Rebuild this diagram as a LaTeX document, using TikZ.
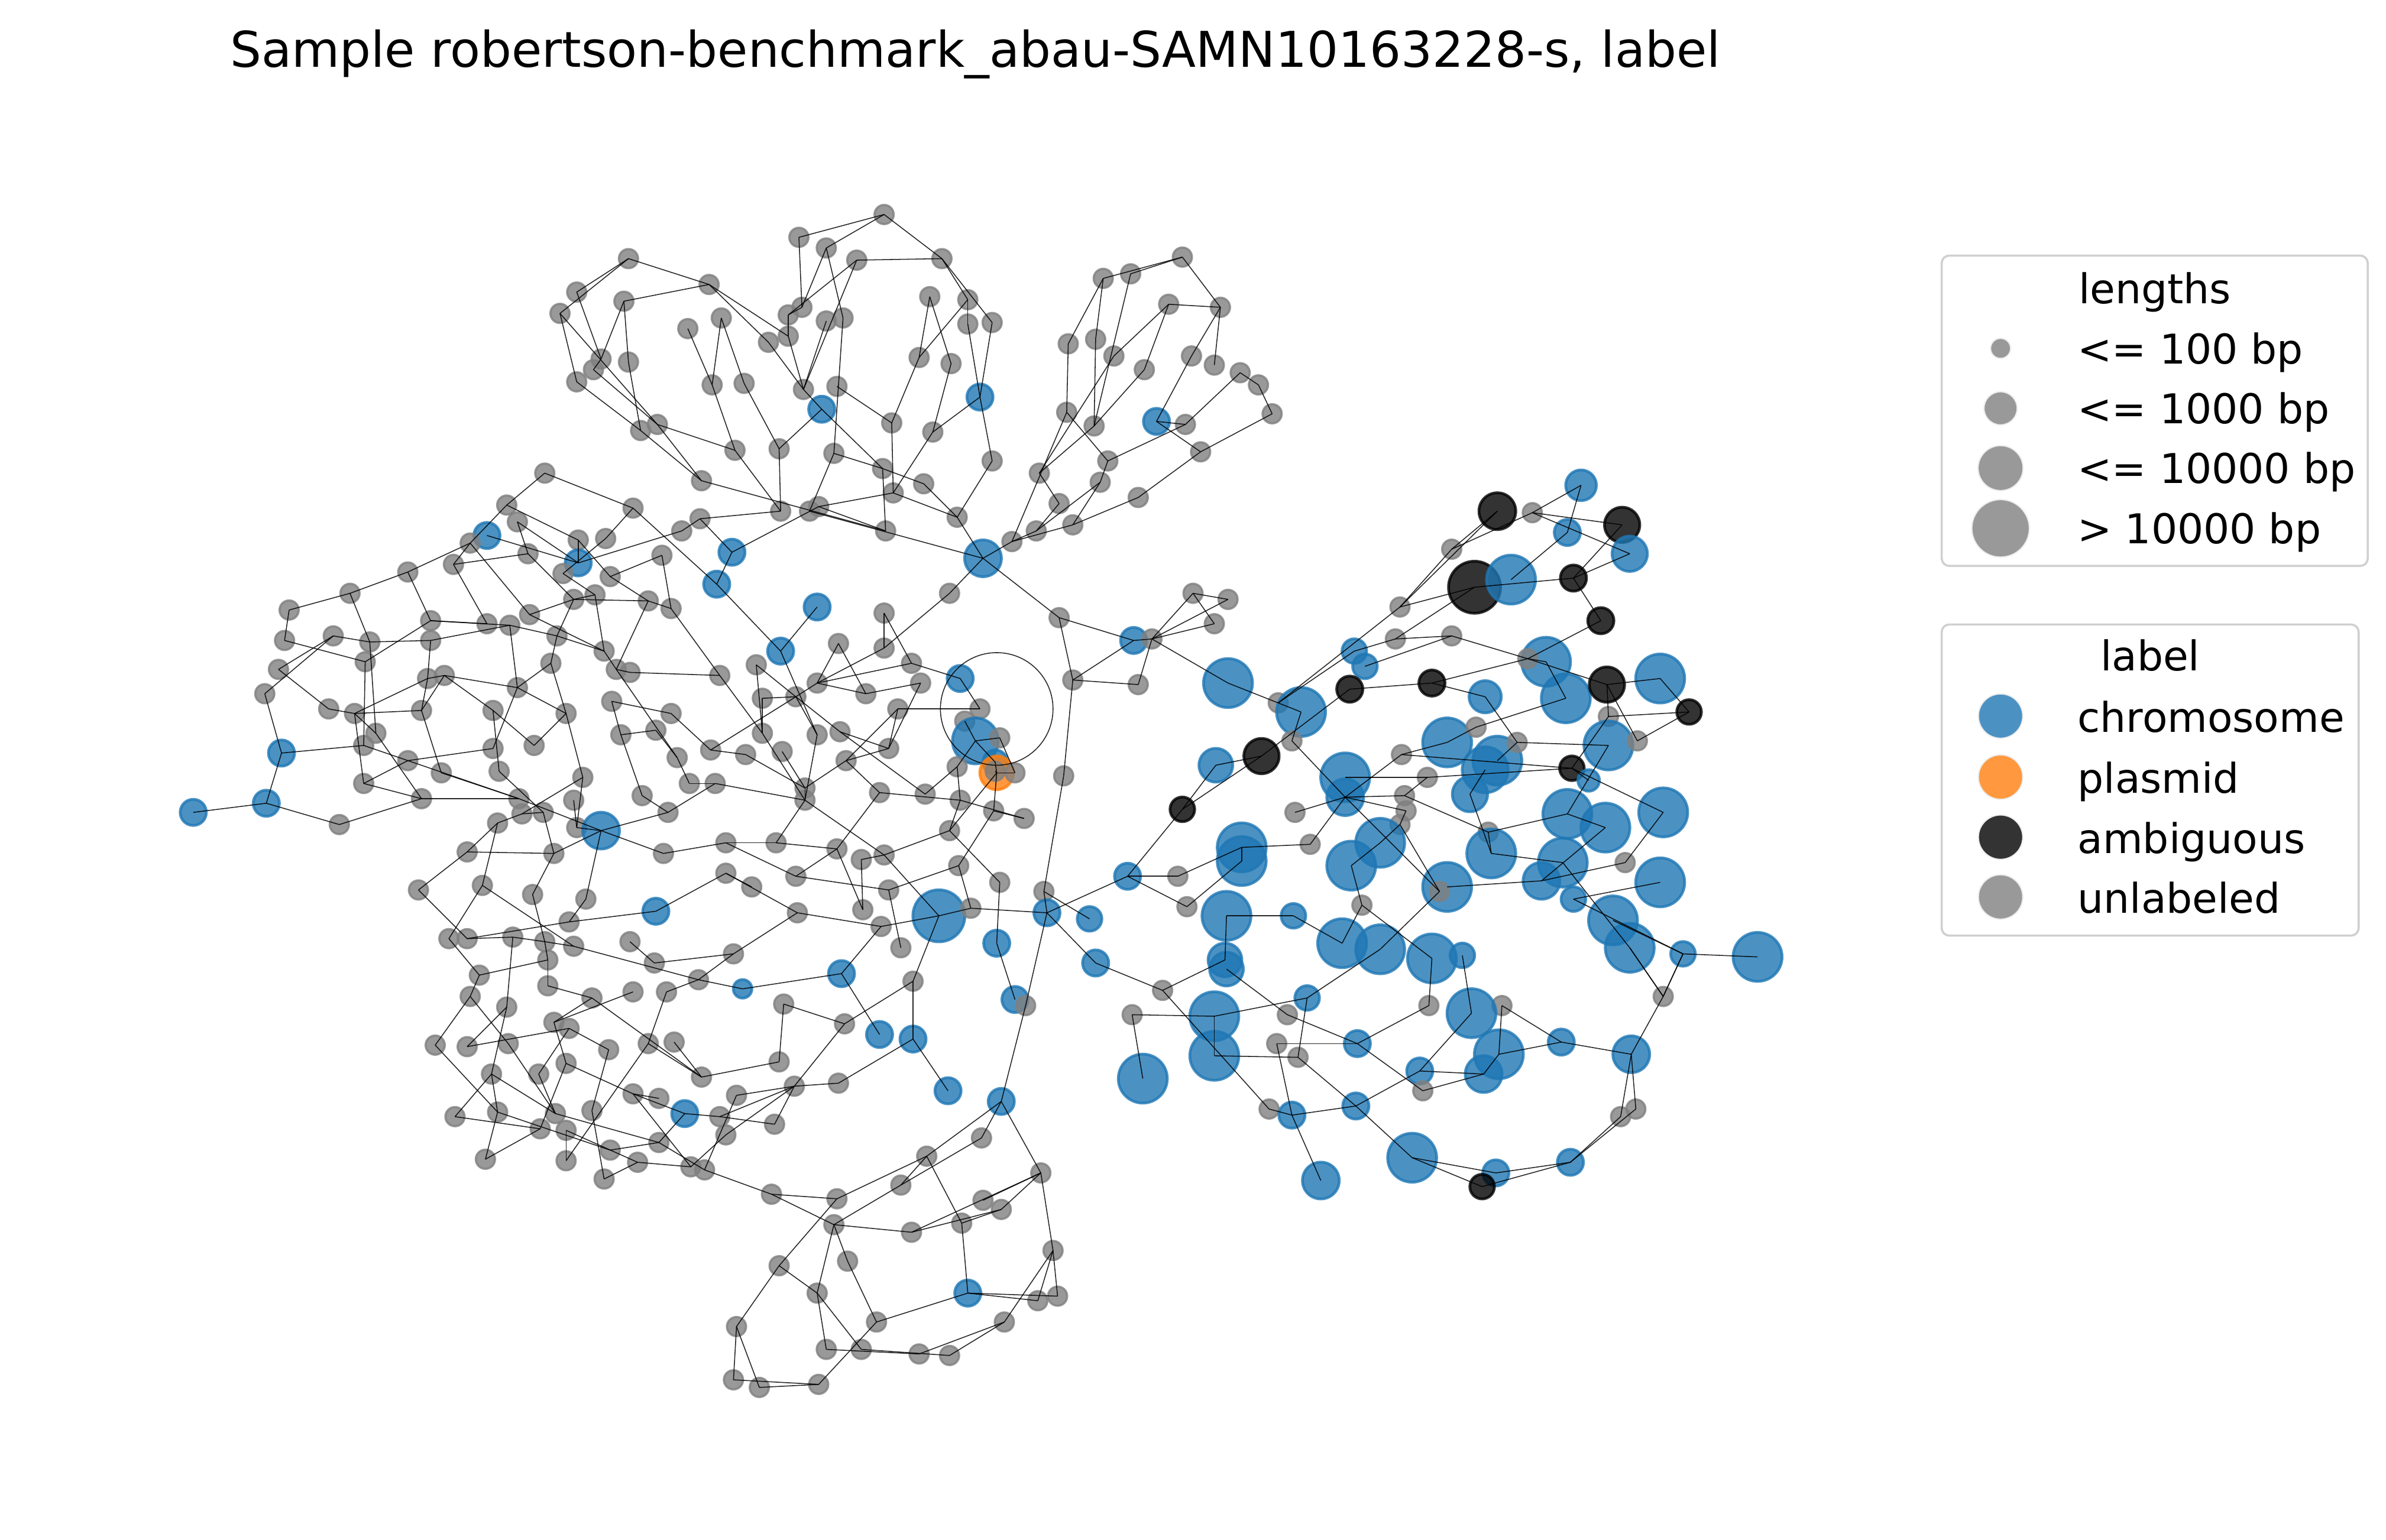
\documentclass[tikz,border=0pt]{standalone}
\usepackage{fontspec}
\setmainfont{DejaVu Sans}
\definecolor{tabblue}{HTML}{1F77B4}
\definecolor{taborange}{HTML}{FF7F0E}
\definecolor{legframe}{HTML}{D0D0D0}
\newcommand{\titf}{\fontsize{16.2}{19.4}\selectfont}
\newcommand{\legf}{\fontsize{13.5}{16.2}\selectfont}
\newcommand{\ngray}[3]{\node[gn] (#1) at (#2,#3) {};}
\newcommand{\nblue}[4]{\node[bn,minimum size=#4pt] (#1) at (#2,#3) {};}
\newcommand{\nblack}[4]{\node[kn,minimum size=#4pt] (#1) at (#2,#3) {};}
\tikzset{
  gn/.style={circle,inner sep=0pt,minimum size=6.3pt,fill=gray,draw=gray,fill opacity=0.8,draw opacity=0.8,line width=0.7pt},
  bn/.style={circle,inner sep=0pt,fill=tabblue,draw=tabblue,fill opacity=0.8,draw opacity=0.8,line width=0.9pt},
  kn/.style={circle,inner sep=0pt,fill=black,draw=black,fill opacity=0.8,draw opacity=0.8,line width=0.9pt},
  on/.style={circle,inner sep=0pt,fill=taborange,draw=taborange,fill opacity=0.8,draw opacity=0.8,line width=0.9pt},
  ed/.style={draw=black,line width=0.3pt,draw opacity=0.85},
  lgm/.style={circle,inner sep=0pt,fill opacity=0.8,line width=0.4pt,draw=white!85!gray},
  legbox/.style={draw=legframe,fill=white,line width=0.7pt,rounded corners=2.5pt},
  legtxt/.style={anchor=base west,font=\legf,inner sep=0pt},
}
\begin{document}
\begin{tikzpicture}[x=0.5pt,y=-0.5pt]
\fill[white] (0,0) rectangle (1568,1012);
\useasboundingbox (0,0) rectangle (1568,1012);
% ---------- title
\node[anchor=base,font=\titf,inner sep=0pt] (title) at (641,44) {Sample robertson-benchmark\_abau-SAMN10163228-s, label};
% ---------- region A
\ngray{A1}{413}{170}\ngray{A2}{379}{192}\ngray{A3}{410}{198}\ngray{A4}{368}{206}
\ngray{A5}{452}{216}\ngray{A6}{395}{236}\ngray{A7}{390}{243}\ngray{A8}{413}{238}
\ngray{A9}{379}{251}\ngray{A10}{432}{279}\ngray{A11}{421}{283}\ngray{A12}{358}{311}
\ngray{A13}{333}{332}\ngray{A14}{416}{334}\ngray{A15}{340}{343}\nblue{A16}{320}{352}{8.6}
\ngray{A17}{309}{357}\ngray{A18}{347}{364}\ngray{A19}{380}{355}\ngray{A20}{398}{354}
\ngray{A21}{448}{349}\nblue{A22}{380}{370}{8.6}\ngray{A23}{435}{365}\ngray{A24}{298}{371}
\ngray{A25}{268}{376}\ngray{A26}{370}{377}\ngray{A27}{401}{379}
% ---------- region B
\ngray{B1}{581}{141}\ngray{B2}{525}{156}\ngray{B3}{543}{163}\ngray{B4}{563}{171}
\ngray{B5}{619}{170}\ngray{B6}{466}{187}\ngray{B7}{611}{195}\ngray{B8}{636}{197}
\ngray{B9}{527}{202}\ngray{B10}{518}{207}\ngray{B11}{474}{209}\ngray{B12}{543}{211}
\ngray{B13}{554}{209}\ngray{B14}{636}{213}\ngray{B15}{652}{212}\ngray{B16}{518}{221}
\ngray{B17}{505}{225}\ngray{B18}{604}{235}\ngray{B19}{625}{239}\ngray{B20}{468}{253}
\ngray{B21}{489}{252}\ngray{B22}{528}{256}\ngray{B23}{550}{254}\nblue{B24}{540}{269}{8.6}
\nblue{B25}{644}{261}{8.6}\ngray{B26}{586}{278}\ngray{B27}{613}{284}\ngray{B28}{483}{296}
\ngray{B29}{512}{295}\ngray{B30}{548}{298}\ngray{B31}{580}{308}\ngray{B32}{652}{303}
\ngray{B33}{461}{316}\ngray{B34}{587}{324}\ngray{B35}{607}{318}\ngray{B36}{513}{336}
\ngray{B37}{532}{336}\ngray{B38}{538}{333}\ngray{B39}{582}{349}\ngray{B40}{629}{340}
\nblue{B41}{646}{367}{12.1}\ngray{B42}{460}{341}\nblue{B43}{481}{363}{8.6}\nblue{B44}{471}{384}{8.6}
\ngray{B45}{624}{390}\ngray{B46}{777}{169}\ngray{B47}{725}{183}\ngray{B48}{743}{180}
\ngray{B49}{768}{200}\ngray{B50}{802}{202}\ngray{B51}{702}{226}\ngray{B52}{720}{223}
\ngray{B53}{732}{234}\ngray{B54}{752}{243}\ngray{B55}{783}{234}\ngray{B56}{798}{240}
\ngray{B57}{815}{245}\ngray{B58}{701}{271}\nblue{B59}{760}{277}{8.6}\ngray{B60}{719}{280}
\ngray{B61}{779}{279}\ngray{B62}{789}{297}\ngray{B63}{728}{303}\ngray{B64}{683}{311}
\ngray{B65}{723}{317}\ngray{B66}{696}{331}\ngray{B67}{748}{327}\ngray{B68}{681}{349}
\ngray{B69}{705}{345}\ngray{B70}{665}{356}\ngray{B71}{784}{390}\ngray{B72}{807}{394}
\ngray{B73}{827}{253}\ngray{B74}{836}{272}
% ---------- region C
\nblack{C1}{984}{336}{12.1}\ngray{C2}{1007}{337}\nblue{C3}{1039}{319}{10.1}\nblack{C4}{1066}{345}{11.6}
\nblue{C5}{1030}{350}{8.6}\nblue{C6}{1071}{364}{11.6}\ngray{C7}{954}{361}\nblack{C8}{969}{386}{17.1}
\nblue{C9}{993}{381}{16.1}\nblack{C10}{1034}{380}{8.6}\ngray{C11}{920}{399}
% ---------- region D
\nblack{D2}{1052}{408}{8.6}\ngray{D3}{917}{420}\ngray{D4}{954}{418}\nblue{D5}{890}{428}{8.1}
\nblue{D6}{897}{438}{8.1}\nblue{D7}{807}{449}{16.1}\nblue{D8}{1016}{435}{16.1}\ngray{D9}{1004}{433}
\nblue{D10}{1029}{459}{16.1}\nblack{D11}{1056}{450}{11.6}\nblue{D12}{1091}{446}{16.1}\nblack{D13}{1110}{468}{8.1}
\ngray{D14}{1057}{471}\nblack{D15}{887}{453}{8.6}\nblack{D16}{941}{449}{8.6}\nblue{D17}{976}{458}{10.6}
\ngray{D18}{840}{462}\nblue{D19}{855}{468}{16.1}\ngray{D20}{849}{487}\nblack{D21}{829}{497}{11.6}
\nblue{D22}{799}{503}{11.1}\nblue{D23}{951}{488}{16.1}\ngray{D24}{970}{478}\nblue{D25}{984}{500}{16.1}
\nblue{D26}{976}{506}{15.1}\ngray{D27}{997}{488}\nblue{D28}{1057}{490}{16.1}\ngray{D29}{1076}{487}
\nblack{D30}{1033}{505}{8.1}\nblue{D31}{1044}{513}{7.1}\ngray{D32}{921}{496}\ngray{D33}{938}{511}
\nblue{D34}{884}{511}{16.1}\nblue{D35}{884}{524}{12.1}\ngray{D36}{923}{523}\ngray{D37}{924}{533}
\ngray{D38}{920}{542}\nblue{D39}{966}{522}{11.6}\ngray{D40}{851}{534}\ngray{D41}{861}{555}
\nblue{D42}{816}{557}{16.1}\nblue{D42b}{816}{566}{16.1}\nblue{D43}{907}{554}{16.1}\nblue{D44}{888}{569}{16.1}
\ngray{D45}{978}{547}\nblue{D46}{980}{561}{16.1}\nblue{D47}{1030}{535}{16.1}\nblue{D48}{1055}{544}{16.1}
\nblue{D49}{1093}{534}{16.1}\ngray{D50}{1068}{567}\nblue{D51}{1091}{580}{16.1}\nblue{D52}{1027}{567}{16.1}
\nblue{D53}{1013}{579}{12.1}\nblue{D54}{1034}{591}{8.1}\nblue{D55}{951}{583}{16.1}\ngray{D56}{946}{586}
\ngray{D57}{895}{595}\nblue{D58}{850}{602}{8.1}\nblue{D59}{806}{602}{16.1}\nblue{D60}{882}{620}{16.1}
\nblue{D61}{907}{624}{16.1}\nblue{D62}{941}{630}{16.1}\nblue{D63}{961}{628}{8.1}\nblue{D64}{1060}{605}{16.1}
\nblue{D65}{1071}{623}{16.1}\nblue{D66}{1106}{627}{8.1}\nblue{D67}{1155}{629}{16.1}\ngray{D68}{1093}{655}
\nblue{D69}{859}{656}{8.1}\ngray{D70}{939}{661}\ngray{D71}{987}{661}\nblue{D72}{805}{631}{11.1}
\nblue{D73}{806}{637}{11.1}
% ---------- region E
\ngray{E1}{581}{403}\ngray{E2}{551}{423}\ngray{E3}{581}{426}\ngray{E4}{599}{436}
\ngray{E5}{497}{437}\ngray{E6}{473}{444}\ngray{E7}{537}{449}\ngray{E8}{523}{458}
\ngray{E9}{501}{459}\ngray{E10}{569}{456}\ngray{E11}{605}{449}\ngray{E12}{590}{466}
\nblue{E13}{631}{446}{8.6}\ngray{E14}{644}{466}\ngray{E15}{634}{474}\nblue{E16}{641}{487}{15.1}
\ngray{E17}{657}{485}\nblue{E18}{654}{501}{8.1}
\node[on,minimum size=11.1pt] (E19) at (655,508) {};
\ngray{E20}{654}{507}\ngray{E21}{667}{508}
\ngray{E22}{501}{482}\ngray{E23}{537}{483}\ngray{E24}{552}{481}\ngray{E25}{467}{493}
\ngray{E26}{490}{496}\ngray{E27}{514}{494}\ngray{E28}{584}{492}\ngray{E29}{556}{500}
\ngray{E30}{629}{504}\ngray{E31}{470}{515}\ngray{E32}{529}{518}\ngray{E33}{529}{526}
\ngray{E34}{578}{521}\ngray{E35}{608}{522}\ngray{E36}{631}{526}\ngray{E37}{653}{533}
\ngray{E38}{673}{538}\ngray{E39}{699}{510}\ngray{E40}{696}{406}\nblue{E41}{745}{421}{8.6}
\ngray{E42}{757}{420}\ngray{E43}{798}{410}\ngray{E44}{705}{447}\ngray{E45}{748}{450}
\nblack{E46}{777}{532}{8.1}\nblue{E47}{741}{576}{8.6}\ngray{E48}{774}{576}\ngray{E49}{780}{596}
\ngray{E50}{686}{586}\nblue{E51}{688}{600}{8.6}\nblue{E52}{716}{604}{8.1}\nblue{E53}{720}{633}{8.6}
\ngray{E54}{764}{651}\ngray{E55}{477}{554}\ngray{E56}{510}{554}\ngray{E57}{550}{558}
\ngray{E58}{566}{565}\ngray{E59}{581}{562}\ngray{E60}{624}{546}\ngray{E61}{630}{569}
\ngray{E62}{657}{580}\ngray{E63}{477}{574}\ngray{E64}{494}{583}\ngray{E65}{523}{576}
\ngray{E66}{584}{585}\nblue{E67}{617}{602}{17.1}\ngray{E68}{638}{597}\ngray{E69}{524}{600}
\ngray{E70}{567}{598}\ngray{E71}{579}{609}\ngray{E72}{592}{623}\nblue{E73}{655}{620}{8.6}
\ngray{E74}{482}{627}\nblue{E75}{553}{640}{8.6}\nblue{E76}{488}{650}{6.1}\ngray{E77}{600}{645}
\ngray{E78}{459}{644}\ngray{E79}{515}{660}\nblue{E80}{667}{657}{8.6}\ngray{E81}{674}{661}
\nblue{E82}{537}{399}{8.6}\nblue{E83}{513}{428}{8.6}\ngray{E84}{453}{515}
% ---------- region F
\ngray{F1}{230}{390}\ngray{F2}{190}{401}\ngray{F3}{219}{418}\ngray{F4}{187}{421}
\ngray{F5}{243}{422}\ngray{F6}{283}{408}\ngray{F7}{283}{421}\ngray{F8}{320}{410}
\ngray{F9}{335}{411}\ngray{F10}{348}{404}\ngray{F11}{377}{394}\ngray{F12}{391}{391}
\ngray{F13}{426}{395}\ngray{F14}{441}{400}\ngray{F15}{366}{418}\ngray{F16}{397}{428}
\ngray{F17}{183}{440}\ngray{F18}{240}{435}\ngray{F19}{281}{446}\ngray{F20}{292}{444}
\ngray{F21}{362}{436}\ngray{F22}{405}{440}\ngray{F23}{414}{442}\ngray{F24}{340}{452}
\ngray{F25}{174}{456}\ngray{F26}{216}{466}\ngray{F27}{233}{469}\ngray{F28}{277}{467}
\ngray{F29}{324}{467}\ngray{F30}{372}{469}\ngray{F31}{402}{461}\ngray{F32}{441}{469}
\ngray{F33}{247}{482}\ngray{F34}{239}{490}\nblue{F35}{185}{495}{8.6}\ngray{F36}{324}{492}
\ngray{F37}{351}{490}\ngray{F38}{408}{483}\ngray{F39}{431}{480}\ngray{F40}{445}{498}
\ngray{F41}{268}{500}\ngray{F42}{290}{508}\ngray{F43}{328}{507}\ngray{F44}{383}{511}
\ngray{F45}{239}{515}\nblue{F46}{175}{528}{8.6}\nblue{F47}{127}{534}{8.6}\ngray{F48}{223}{542}
\ngray{F49}{277}{525}\ngray{F50}{341}{525}\ngray{F51}{377}{526}\ngray{F52}{422}{523}
\ngray{F53}{439}{534}\ngray{F54}{343}{535}\ngray{F55}{357}{534}\ngray{F56}{327}{541}
\ngray{F57}{379}{544}\nblue{F58}{395}{546}{12.1}\ngray{F59}{436}{561}\ngray{F60}{307}{560}
\ngray{F61}{364}{561}\ngray{F62}{275}{585}\ngray{F63}{317}{582}\ngray{F64}{350}{588}
\ngray{F65}{385}{591}\nblue{F66}{431}{599}{8.6}\ngray{F67}{374}{606}\ngray{F68}{295}{617}
\ngray{F69}{307}{617}\ngray{F70}{337}{616}\ngray{F71}{358}{619}\ngray{F72}{377}{622}
\ngray{F73}{414}{619}\ngray{F74}{360}{631}\ngray{F75}{430}{633}\ngray{F76}{315}{641}
\ngray{F77}{360}{648}\ngray{F78}{416}{652}\ngray{F79}{438}{652}\ngray{F80}{309}{655}
\ngray{F81}{333}{662}\ngray{F82}{389}{656}
% ---------- region G
\ngray{G3}{364}{672}\ngray{G4}{374}{676}\ngray{G8}{286}{687}\ngray{G9}{307}{688}
\ngray{G10}{334}{686}\ngray{G11}{400}{690}\ngray{G12}{426}{686}\ngray{G13}{443}{685}
\ngray{G14}{323}{706}\ngray{G15}{354}{706}\ngray{G16}{372}{699}\ngray{G17}{461}{708}
\ngray{G18}{416}{719}\ngray{G19}{433}{722}\nblue{G20}{450}{732}{8.6}\ngray{G21}{299}{734}
\ngray{G22}{327}{731}\ngray{G23}{365}{732}\ngray{G24}{389}{730}\ngray{G25}{355}{742}
\ngray{G26}{372}{743}\ngray{G27}{401}{756}\ngray{G28}{433}{751}\ngray{G29}{319}{762}
\ngray{G30}{372}{763}\ngray{G31}{419}{764}\ngray{G32}{454}{767}\ngray{G33}{463}{769}
\ngray{G34}{397}{775}
% ---------- region H
\ngray{H2}{555}{673}\nblue{H3}{578}{680}{8.6}\nblue{H4}{600}{683}{8.6}\nblue{H5}{623}{717}{8.6}
\nblue{H6}{658}{724}{8.6}\ngray{H8}{512}{698}\ngray{H10}{522}{714}\ngray{H11}{551}{712}
\ngray{H12}{484}{720}\ngray{H13}{473}{734}\ngray{H14}{509}{739}\ngray{H15}{477}{746}
\ngray{H17}{645}{748}\ngray{H18}{609}{760}\ngray{H19}{592}{779}\ngray{H20}{507}{785}
\ngray{H21}{550}{788}\ngray{H22}{684}{771}\ngray{H23}{646}{789}\ngray{H24}{658}{795}
\ngray{H25}{632}{804}\ngray{H26}{548}{805}\ngray{H27}{599}{810}\ngray{H28}{557}{829}
\ngray{H29}{692}{822}\ngray{H30}{512}{832}\ngray{H31}{537}{850}\nblue{H32}{636}{850}{8.6}
\ngray{H33}{682}{855}\ngray{H34}{695}{852}\ngray{H35}{576}{869}\ngray{H36}{484}{872}
\ngray{H37}{660}{869}\ngray{H38}{543}{887}\ngray{H39}{566}{887}\ngray{H40}{604}{890}
\ngray{H41}{624}{891}\ngray{H42}{482}{907}\ngray{H43}{499}{912}\ngray{H44}{538}{910}
\ngray{H45}{744}{667}\nblue{H47}{798}{668}{16.1}\nblue{H48}{798}{694}{16.1}\nblue{H49}{751}{709}{16.1}
% ---------- region I
\ngray{I2}{846}{667}\nblue{I4}{967}{666}{16.1}\ngray{I7}{839}{686}\ngray{I8}{853}{695}
\nblue{I9}{892}{686}{8.6}\nblue{I10}{933}{704}{8.6}\ngray{I11}{935}{717}\nblue{I12}{985}{693}{16.1}
\nblue{I13}{975}{706}{12.1}\nblue{I14}{1026}{685}{8.6}\nblue{I15}{1072}{693}{12.1}\ngray{I16}{834}{729}
\nblue{I17}{849}{733}{8.6}\nblue{I18}{891}{727}{8.6}\ngray{I19}{1065}{734}\ngray{I20}{1075}{729}
\nblue{I21}{928}{761}{16.1}\nblue{I22}{868}{776}{12.1}\nblue{I23}{983}{771}{8.6}\nblack{I24}{974}{780}{8.1}
\nblue{I25}{1032}{764}{8.6}
% ---------- edges
\foreach \a/\b in {A1/A2,A1/A4,A1/B6,A3/B6,A3/A6,A3/A8,A8/A11,A2/A6,A4/A9,A4/A10,A9/A11,A7/A10,A6/A7,
  A10/B33,A11/B33,A5/B20,A10/B28,A12/A13,A12/A14,A13/A17,A13/A19,A14/A20,A14/B44,A15/A18,A15/A22,
  A16/A22,A17/A24,A17/A25,A24/A18,A22/A21,A20/A26,A19/A27,A19/A22,A23/A27,A21/B42,A25/F1,A17/F10,
  A24/F8,A25/F6,A18/F11,A26/F12,A27/F13,A23/F14}
  \draw[ed] (\a.center) -- (\b.center);
\foreach \a/\b in {B1/B2,B1/B3,B1/B5,B4/B5,B2/B9,B3/B9,B3/B13,B4/B10,B4/B22,B5/B8,B5/B15,B8/B14,
  B6/B17,B6/B16,B7/B19,B7/B18,B8/B18,B9/B10,B10/B16,B11/B20,B11/B21,B12/B22,B13/B30,B14/B25,B15/B25,
  B16/B22,B17/B22,B18/B26,B19/B27,B20/B28,B21/B29,B22/B24,B23/B26,B24/B29,B24/B31,B25/B27,B25/B32,
  B26/B34,B27/B34,B28/B36,B29/B36,B30/B31,B30/B37,B31/B39,B32/B40,B33/B39,B34/B38,B34/B40,B35/B40,
  B31/B35,B36/B42,B37/B41,B38/B43,B38/B39,B40/B41,B41/B70,B41/B45,B41/E40,B42/B43,B43/B44,B70/B68,
  B70/B69,B68/B66,B58/B70,B64/B60,B64/B66,B65/B68,B65/B69,B58/B63,B58/B51,B51/B47,B47/B52,B47/B46,
  B48/B46,B48/B60,B46/B50,B49/B50,B49/B53,B49/B54,B54/B60,B50/B56,B50/B55,B55/B59,B59/B61,B59/B62,
  B61/B57,B61/B63,B62/B67,B62/B74,B67/B69,B63/B65,B52/B60,B71/B72,B57/B73,B73/B74,B53/B64}
  \draw[ed] (\a.center) -- (\b.center);
\foreach \a/\b in {C1/C7,C7/C2,C2/C3,C2/C4,C3/C5,C5/C9,C4/C10,C6/C10,C10/C8,C7/C11,C10/D2,C1/C11,
  C2/C6,C8/C11,C8/D3,
  C11/D18,D3/D4,D4/D9,D4/D6,D5/D3,D5/D18,D15/D16,D15/D21,D16/D17,D16/D9,D17/D27,D9/D2,D9/D11,D8/D10,
  D8/D9,D11/D14,D11/D29,D12/D13,D12/D11,D14/D13,D13/D29,D14/D30,D10/D24,D24/D23,D32/D23,D27/D28,
  D32/D30,D32/D35,D30/D33,D30/D31,D30/D49,D19/D20,D7/D19,D20/D35,D21/D22,D33/D36,D34/D33,D35/D36,
  D35/D40,D35/D41,D35/D37,D35/D56,D36/D45,D37/D38,D38/D56,D45/D46,D45/D47,D28/D47,D48/D53,D49/D50,
  D50/D53,D51/D54,D46/D52,D52/D65,D55/D53,D56/D61,D57/D60,D57/D62,D58/D59,D58/D60,D42/D41,D61/D69,
  D64/D66,D66/D67,D66/D68,D65/D68,D54/D66,D25/D27,D26/D39,D43/D38,D44/D57,D39/D46,D72/D59,D42/D42b,
  D47/D48,D44/D43}
  \draw[ed] (\a.center) -- (\b.center);
\foreach \a/\b in {E83/E82,E83/B44,E83/E23,E1/E3,E1/E4,E3/B45,E3/E7,E4/E13,E4/E7,E2/E7,E2/E10,E5/E22,
  E5/E8,E6/E22,E7/E8,E7/E10,E8/E9,E8/E23,E8/E24,E8/E25,E9/E22,E10/E11,E12/E14,E12/E28,E12/E29,
  E11/E28,E13/E14,E16/E15,E16/E17,E16/E30,E16/E18,E18/E19,E19/E37,E19/E60,E21/E19,E20/E19,E22/E33,
  E23/E33,E24/E35,E25/E26,E26/E32,E27/E32,E28/E29,E29/E32,E29/E34,E30/E36,E30/E35,E36/E38,E31/E33,
  E32/E33,E33/E56,E33/E59,E34/E36,E34/E57,E37/E61,E37/E38,E36/E60,E60/E59,E60/E62,E61/E66,E61/E68,
  E62/E73,E40/E41,E40/E44,E41/E42,E42/B71,E42/B72,E42/E43,B71/E43,E44/E41,E44/E45,E42/E45,E44/E39,
  E39/E50,E42/D7,E46/D22,E46/D21,E46/E47,E47/E48,E47/E51,E48/D42,E47/E49,E49/D42b,E50/E51,E50/E52,
  E68/E51,E51/E53,E51/E81,E53/E54,E54/D72,E55/E56,E55/E65,E56/E57,E57/E65,E57/E70,E58/E70,E58/E59,
  E59/E67,E63/E69,E63/E64,E65/E66,E66/E72,E67/E71,E67/E68,E67/E77,E69/E71,E69/E74,E71/E75,E75/E76,
  E73/E80,E76/E78,E74/E78,E17/E21,E24/E28,E84/E31}
  \draw[ed] (\a.center) -- (\b.center);
\foreach \a/\b in {F1/F2,F1/F5,F2/F4,F4/F18,F3/F17,F3/F25,F5/F7,F3/F5,F6/F9,F6/F18,F6/F8,F7/F9,F7/F19,
  F9/F15,F9/F24,F10/F11,F10/F16,F11/F13,F11/F15,F12/F16,F12/F11,F13/F22,F13/F14,F14/E6,F15/F21,F15/F16,
  F16/F22,F17/F26,F18/F34,F5/F33,F19/F20,F19/F28,F19/F27,F20/F24,F20/F29,F20/F28,F21/F24,F21/F30,
  F22/F23,F23/E6,F31/F38,F22/F40,F24/F30,F24/F36,F25/F35,F26/F27,F27/F28,F27/F45,F27/F33,F28/F42,
  F29/F37,F29/F43,F30/F37,F30/F44,F32/E25,F33/F49,F34/F35,F34/F50,F36/F41,F38/F39,F38/F52,F39/F40,
  F40/E84,F41/F45,F42/F50,F43/F55,F44/F57,F44/F54,F45/F49,F46/F35,F46/F47,F46/F48,F48/F49,F49/F50,
  F50/F58,F51/F57,F52/F53,F53/F58,F54/F56,F54/F55,F55/F61,F56/F60,F56/F63,F58/F59,F58/F61,F58/F65,
  F59/E55,F60/F61,F60/F62,F61/F64,F62/F69,F63/F68,F63/F72,F64/F71,F65/F67,F66/F67,F66/E63,F67/F69,
  F68/F76,F69/F70,F70/F71,F70/F81,F71/F74,F71/F72,F72/E78,F73/F75,F74/F76,F74/F77,F75/E74,F77/F82,
  F80/F76,F79/E78,F53/E31,F31/F32,F57/F58}
  \draw[ed] (\a.center) -- (\b.center);
\foreach \a/\b in {F80/G8,F80/G10,F81/G9,F81/G14,G9/G4,G3/F78,G4/G11,G4/G15,F82/G3,F82/G17,G10/G23,
  G8/G22,G12/G30,G12/G17,F79/G12,G13/G17,G14/G21,G14/G22,G14/G23,G15/G23,G16/G18,G16/G25,G18/G19,
  G18/G20,G18/G32,G20/G28,G21/G25,G22/G29,G22/G27,G23/G28,G24/G34,G25/G29,G26/G30,G26/G31,G27/G28,
  G28/G33,G31/G32,G31/G34,G3/G16,G11/G24}
  \draw[ed] (\a.center) -- (\b.center);
\foreach \a/\b in {E79/H2,E79/H8,H2/H10,E77/H2,E75/H3,E77/H4,H4/H5,H4/H11,E81/H6,H6/H18,H6/H17,H6/H22,
  H8/G17,H10/H11,H10/H12,H10/H13,H10/H14,H10/H15,H12/G33,H13/H14,H13/G20,G33/H20,H17/H19,H18/H21,
  H18/H19,H18/H25,H19/H26,H20/H21,H20/H26,H21/H30,H22/H27,H22/H24,H22/H29,H22/H23,H24/H25,H24/H27,
  H25/H32,H26/H27,H26/H28,H26/H31,H28/H35,H29/H33,H29/H34,H29/H37,H30/H31,H30/H36,H31/H38,H31/H39,
  H32/H33,H32/H34,H32/H35,H35/H44,H36/H42,H36/H43,H37/H40,H37/H41,H38/H40,H39/H41,H42/H44,H43/H44,
  H45/H47,H45/H49,H47/H48,H15/G32,E54/I16,H48/I8}
  \draw[ed] (\a.center) -- (\b.center);
\foreach \a/\b in {D69/H47,D69/I8,I2/I9,D70/I9,I4/I10,D71/I12,D71/I14,D68/I15,I7/I9,I7/I17,I8/I18,
  I9/I11,I10/I13,I10/I18,I11/I13,I12/I14,I14/I15,I15/I19,I15/I20,I16/I17,I17/I18,I17/I22,I18/I21,
  I21/I23,I21/I24,I23/I25,I24/I25,I19/I25,I20/I25,I12/I13,D70/D62,I4/D63,D68/D66,D68/D65,I2/D73}
  \draw[ed] (\a.center) -- (\b.center);
% self loop
\draw[ed] (E18.center) ++(1,-35) circle[radius=37];
% ---------- legend: lengths
\draw[legbox] (1276,168) rectangle (1556,372);
\node[anchor=base,font=\legf,inner sep=0pt] (lentitle) at (1416,199.4) {lengths};
\node[lgm,fill=gray,minimum size=6.6pt] (lm1) at (1314.7,229) {};
\node[lgm,fill=gray,minimum size=10.9pt] (lm2) at (1314.7,268.4) {};
\node[lgm,fill=gray,minimum size=14.8pt] (lm3) at (1314.7,307.7) {};
\node[lgm,fill=gray,minimum size=18.9pt] (lm4) at (1314.7,347.3) {};
\node[legtxt] (lt1) at (1365,239) {<= 100 bp};
\node[legtxt] (lt2) at (1365,278.4) {<= 1000 bp};
\node[legtxt] (lt3) at (1365,317.7) {<= 10000 bp};
\node[legtxt] (lt4) at (1365,357.3) {> 10000 bp};
% ---------- legend: label
\draw[legbox] (1276,410.5) rectangle (1550,615);
\node[anchor=base,font=\legf,inner sep=0pt] (labtitle) at (1413,441) {label};
\node[lgm,fill=tabblue,minimum size=14.6pt] (cm1) at (1314.7,470.7) {};
\node[lgm,fill=taborange,minimum size=14.6pt] (cm2) at (1314.7,510.8) {};
\node[lgm,fill=black,minimum size=14.6pt] (cm3) at (1314.7,550.3) {};
\node[lgm,fill=gray,minimum size=14.6pt] (cm4) at (1314.7,589.6) {};
\node[legtxt] (ct1) at (1365,481.3) {chromosome};
\node[legtxt] (ct2) at (1365,521.4) {plasmid};
\node[legtxt] (ct3) at (1365,560.9) {ambiguous};
\node[legtxt] (ct4) at (1365,600.2) {unlabeled};
\end{tikzpicture}
\end{document}
